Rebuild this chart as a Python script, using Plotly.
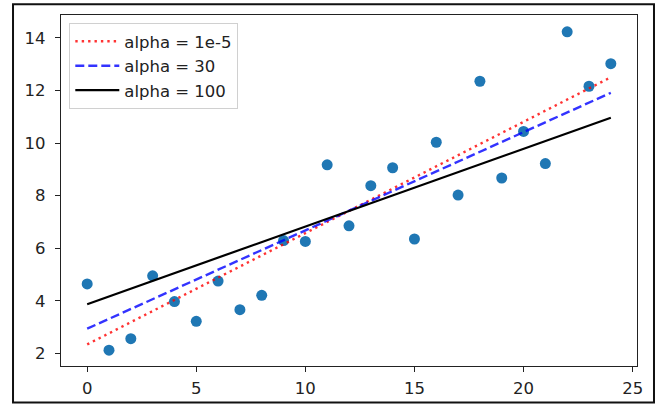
import plotly.graph_objects as go

# Data
x_points = list(range(25))
y_points = [4.64, 2.12, 2.56, 4.95, 3.97, 3.22, 4.75, 3.66, 4.21, 6.29, 6.26,
            9.17, 6.85, 8.38, 9.06, 6.35, 10.03, 8.02, 12.35, 8.67, 10.44,
            9.22, 14.23, 12.16, 13.02]

line_x = [0, 24]
fit_1e5 = [2.34, 12.50]
fit_30 = [2.94, 11.91]
fit_100 = [3.87, 10.96]

x_ticks = [0, 5, 10, 15, 20, 25]
y_ticks = [2, 4, 6, 8, 10, 12, 14]

FONT = "DejaVu Sans"
FS = 16.5

fig = go.Figure()
fig.add_trace(go.Scatter(x=x_points, y=y_points, mode="markers",
                         marker=dict(color="#1f77b4", size=11, line=dict(width=0)),
                         showlegend=False))
fig.add_trace(go.Scatter(x=line_x, y=fit_1e5, mode="lines", name="alpha = 1e-5",
                         line=dict(color="rgba(255,0,0,0.8)", width=2.4, dash="2.4px,4px")))
fig.add_trace(go.Scatter(x=line_x, y=fit_30, mode="lines", name="alpha = 30",
                         line=dict(color="rgba(0,0,255,0.8)", width=2.4, dash="9px,4px")))
fig.add_trace(go.Scatter(x=line_x, y=fit_100, mode="lines", name="alpha = 100",
                         line=dict(color="black", width=2.2)))

axis_common = dict(showgrid=False, zeroline=False, showline=True, mirror=True,
                   linecolor="#222", linewidth=1.3, ticks="outside", ticklen=5,
                   tickwidth=1.2, tickcolor="#222",
                   tickfont=dict(family=FONT, size=FS, color="#222"))

fig.update_layout(
    width=659, height=410,
    margin=dict(l=61, r=22, t=15, b=39),
    paper_bgcolor="white", plot_bgcolor="white",
    font=dict(family=FONT, size=FS, color="#222"),
    xaxis=dict(range=[-1.2, 25.2], tickvals=x_ticks, ticklabelstandoff=2, **axis_common),
    yaxis=dict(range=[1.52, 14.87], tickvals=y_ticks, ticklabelstandoff=6, **axis_common),
    legend=dict(x=0.0144, y=0.977, xanchor="left", yanchor="top",
                itemwidth=44, tracegroupgap=0,
                bgcolor="rgba(255,255,255,0.8)", bordercolor="#d0d0d0", borderwidth=1,
                font=dict(family=FONT, size=FS, color="#222")),
    shapes=[dict(type="rect", xref="paper", yref="paper",
                 x0=-0.0833, x1=1.0295, y0=-0.1039, y1=1.0309,
                 line=dict(color="#111", width=2))],
)

fig.write_html("out.html", config={"displayModeBar": False},
               post_script="document.body.style.margin='0';document.body.style.overflow='hidden';")
